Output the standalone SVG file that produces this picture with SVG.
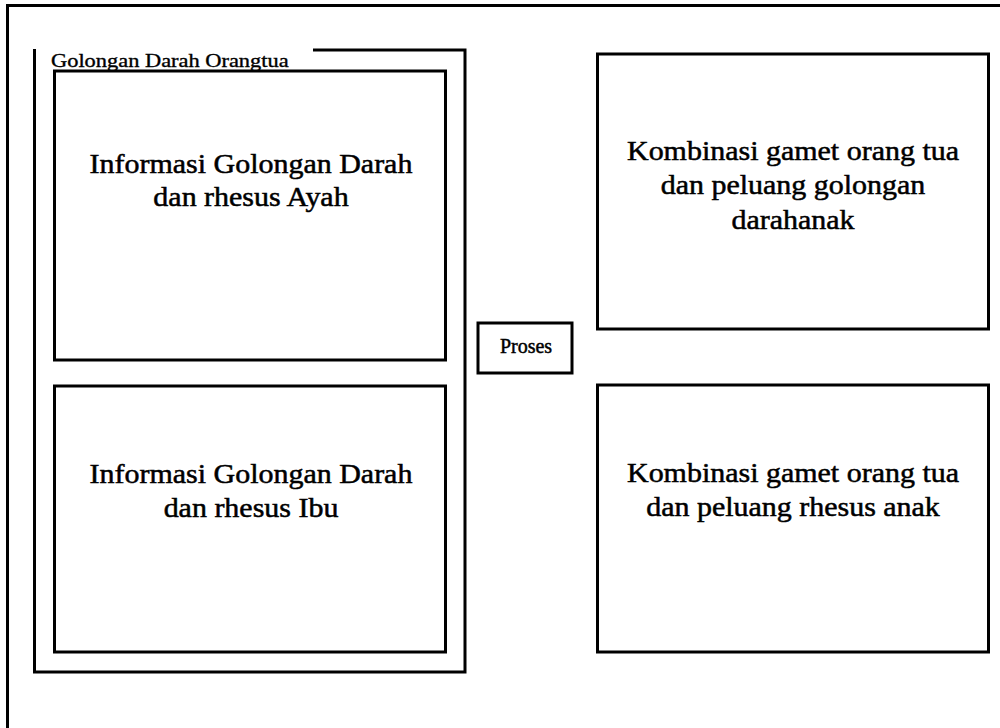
<svg xmlns="http://www.w3.org/2000/svg" width="1000" height="728" viewBox="0 0 1000 728">
  <style>
    .frame { fill: none; stroke: #000; stroke-width: 3; }
    .box { fill: #fff; stroke: #000; stroke-width: 3; }
    .big { font-family: "Liberation Serif", "Times New Roman", serif; font-size: 27px; fill: #000; stroke: #000; stroke-width: 0.5; text-anchor: middle; }
    .label { font-family: "Liberation Serif", "Times New Roman", serif; font-size: 19px; fill: #000; stroke: #000; stroke-width: 0.35; }
    .small { font-family: "Liberation Serif", "Times New Roman", serif; font-size: 20px; fill: #000; stroke: #000; stroke-width: 0.45; text-anchor: middle; }
  </style>
  <rect width="1000" height="728" fill="#fff"/>

  <!-- page border (open on right and bottom) -->
  <path class="frame" d="M7.5 728 V5.5 H1000"/>

  <!-- parents' blood group panel -->
  <g id="parents-panel">
    <path class="frame" d="M313 50 H465 V672 H34.5 V49"/>
    <text class="label" transform="translate(51 67) scale(1.18 1)">Golongan Darah Orangtua</text>
  </g>

  <g id="node-ayah">
    <rect class="box" x="54.5" y="71" width="391" height="289"/>
    <text class="big" transform="translate(251 173) scale(1.11 1)">Informasi Golongan Darah</text>
    <text class="big" transform="translate(251 206) scale(1.11 1)">dan rhesus Ayah</text>
  </g>

  <g id="node-ibu">
    <rect class="box" x="54.5" y="386" width="391" height="266"/>
    <text class="big" transform="translate(251 483) scale(1.11 1)">Informasi Golongan Darah</text>
    <text class="big" transform="translate(251 517) scale(1.11 1)">dan rhesus Ibu</text>
  </g>

  <g id="node-proses">
    <rect class="box" x="478" y="323" width="94" height="50"/>
    <text class="small" x="526" y="353">Proses</text>
  </g>

  <g id="node-golongan-anak">
    <rect class="box" x="597.5" y="54" width="391" height="275"/>
    <text class="big" transform="translate(793 160) scale(1.11 1)">Kombinasi gamet orang tua</text>
    <text class="big" transform="translate(793 194) scale(1.11 1)">dan peluang golongan</text>
    <text class="big" transform="translate(793 229) scale(1.11 1)">darahanak</text>
  </g>

  <g id="node-rhesus-anak">
    <rect class="box" x="597.5" y="385" width="391" height="267"/>
    <text class="big" transform="translate(793 482) scale(1.11 1)">Kombinasi gamet orang tua</text>
    <text class="big" transform="translate(793 516) scale(1.11 1)">dan peluang rhesus anak</text>
  </g>

  <g id="connectors"></g>
</svg>
